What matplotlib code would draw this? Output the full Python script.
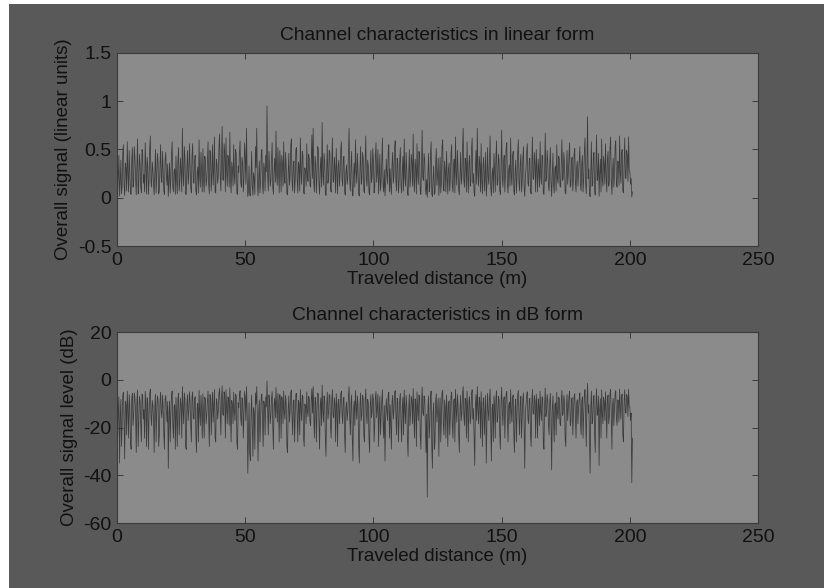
import numpy as np
import matplotlib.pyplot as plt
from matplotlib.patches import Rectangle

# segnale complessivo (unità lineari), un campione ogni STEP metri
STEP = 0.25
lin = [
    0.48, 0.06, 0.21, 0.44, 0.018, 0.16, 0.39, 0.04, 0.12, 0.47, 0.55, 0.13, 0.022, 0.36, 0.31, 0.07, 0.58, 0.24, 0.06, 0.49,
    0.27, 0.05, 0.035, 0.40, 0.52, 0.11, 0.18, 0.53, 0.41, 0.20, 0.03, 0.34, 0.61, 0.04, 0.14, 0.45, 0.35, 0.12, 0.05, 0.50,
    0.46, 0.15, 0.24, 0.06, 0.57, 0.30, 0.04, 0.42, 0.33, 0.035, 0.19, 0.51, 0.64, 0.17, 0.11, 0.37, 0.29, 0.13, 0.03, 0.28,
    0.50, 0.05, 0.22, 0.46, 0.38, 0.04, 0.07, 0.33, 0.55, 0.21, 0.16, 0.48, 0.26, 0.07, 0.035, 0.39, 0.47, 0.23, 0.13, 0.35,
    0.014, 0.19, 0.36, 0.05, 0.20, 0.45, 0.58, 0.12, 0.06, 0.27, 0.30, 0.035, 0.43, 0.18, 0.04, 0.38, 0.52, 0.07, 0.17, 0.41,
    0.28, 0.06, 0.72, 0.25, 0.12, 0.53, 0.40, 0.04, 0.035, 0.31, 0.49, 0.14, 0.23, 0.56, 0.35, 0.11, 0.05, 0.44, 0.56, 0.16,
    0.15, 0.39, 0.44, 0.07, 0.03, 0.26, 0.32, 0.05, 0.60, 0.21, 0.11, 0.47, 0.25, 0.06, 0.51, 0.18, 0.06, 0.43, 0.37, 0.12,
    0.19, 0.35, 0.58, 0.14, 0.04, 0.49, 0.42, 0.07, 0.27, 0.55, 0.13, 0.29, 0.63, 0.06, 0.05, 0.40, 0.34, 0.15, 0.22, 0.52,
    0.66, 0.24, 0.07, 0.41, 0.74, 0.19, 0.18, 0.56, 0.47, 0.06, 0.62, 0.28, 0.12, 0.44, 0.39, 0.11, 0.68, 0.20, 0.05, 0.37,
    0.30, 0.12, 0.55, 0.23, 0.14, 0.50, 0.45, 0.05, 0.035, 0.33, 0.26, 0.47, 0.59, 0.16, 0.11, 0.42, 0.36, 0.06, 0.20, 0.57,
    0.43, 0.14, 0.72, 0.22, 0.011, 0.06, 0.33, 0.03, 0.02, 0.18, 0.48, 0.12, 0.025, 0.26, 0.21, 0.035, 0.53, 0.31, 0.72, 0.15,
    0.02, 0.20, 0.38, 0.05, 0.16, 0.45, 0.50, 0.13, 0.04, 0.36, 0.29, 0.07, 0.44, 0.27, 0.95, 0.22, 0.07, 0.48, 0.34, 0.12,
    0.18, 0.40, 0.57, 0.11, 0.035, 0.29, 0.41, 0.16, 0.69, 0.25, 0.13, 0.52, 0.27, 0.05, 0.49, 0.33, 0.06, 0.44, 0.36, 0.12,
    0.58, 0.21, 0.15, 0.47, 0.31, 0.04, 0.03, 0.24, 0.46, 0.13, 0.22, 0.54, 0.61, 0.17, 0.07, 0.35, 0.38, 0.05, 0.19, 0.50,
    0.52, 0.19, 0.05, 0.37, 0.33, 0.07, 0.62, 0.26, 0.14, 0.48, 0.44, 0.06, 0.04, 0.31, 0.28, 0.12, 0.56, 0.22, 0.17, 0.45,
    0.40, 0.13, 0.11, 0.38, 0.65, 0.20, 0.72, 0.16, 0.06, 0.43, 0.35, 0.05, 0.24, 0.53, 0.50, 0.14, 0.035, 0.30, 0.42, 0.11,
    0.78, 0.23, 0.13, 0.46, 0.37, 0.06, 0.025, 0.28, 0.55, 0.15, 0.20, 0.49, 0.46, 0.11, 0.06, 0.36, 0.62, 0.18, 0.16, 0.42,
    0.30, 0.05, 0.51, 0.27, 0.04, 0.33, 0.39, 0.12, 0.25, 0.50, 0.58, 0.19, 0.12, 0.40, 0.43, 0.07, 0.03, 0.26, 0.34, 0.14,
    0.21, 0.44, 0.72, 0.17, 0.07, 0.32, 0.48, 0.06, 0.02, 0.25, 0.36, 0.11, 0.60, 0.28, 0.15, 0.46, 0.27, 0.04, 0.018, 0.30,
    0.53, 0.14, 0.19, 0.47, 0.41, 0.07, 0.05, 0.35, 0.64, 0.20, 0.12, 0.39, 0.33, 0.06, 0.03, 0.27, 0.49, 0.16, 0.22, 0.51,
    0.38, 0.05, 0.11, 0.43, 0.57, 0.16, 0.26, 0.50, 0.04, 0.21, 0.45, 0.07, 0.18, 0.37, 0.62, 0.13, 0.06, 0.29, 0.02, 0.15,
    0.40, 0.24, 0.14, 0.48, 0.55, 0.06, 0.30, 0.12, 0.035, 0.34, 0.47, 0.15, 0.23, 0.52, 0.59, 0.18, 0.07, 0.41, 0.35, 0.05,
    0.16, 0.39, 0.52, 0.13, 0.05, 0.28, 0.43, 0.07, 0.61, 0.22, 0.12, 0.47, 0.29, 0.06, 0.025, 0.24, 0.50, 0.11, 0.20, 0.45,
    0.37, 0.12, 0.66, 0.19, 0.06, 0.40, 0.31, 0.04, 0.56, 0.25, 0.14, 0.48, 0.44, 0.07, 0.035, 0.32, 0.70, 0.21, 0.18, 0.46,
    0.39, 0.11, 0.03, 0.19, 0.0035, 0.27, 0.46, 0.06, 0.12, 0.44, 0.58, 0.04, 0.014, 0.20, 0.33, 0.035, 0.05, 0.35, 0.51, 0.13,
    0.22, 0.41, 0.025, 0.17, 0.42, 0.05, 0.15, 0.53, 0.60, 0.12, 0.07, 0.38, 0.27, 0.06, 0.48, 0.23, 0.04, 0.30, 0.36, 0.07,
    0.19, 0.45, 0.55, 0.12, 0.06, 0.34, 0.40, 0.05, 0.63, 0.26, 0.13, 0.49, 0.30, 0.07, 0.03, 0.23, 0.47, 0.14, 0.21, 0.52,
    0.72, 0.18, 0.11, 0.41, 0.38, 0.06, 0.58, 0.24, 0.05, 0.36, 0.44, 0.12, 0.17, 0.50, 0.62, 0.15, 0.25, 0.06, 0.016, 0.28,
    0.49, 0.14, 0.72, 0.26, 0.12, 0.43, 0.35, 0.06, 0.56, 0.18, 0.04, 0.33, 0.42, 0.07, 0.20, 0.47, 0.018, 0.13, 0.52, 0.22,
    0.14, 0.39, 0.64, 0.11, 0.02, 0.24, 0.31, 0.05, 0.46, 0.29, 0.06, 0.41, 0.59, 0.13, 0.16, 0.45, 0.38, 0.07, 0.035, 0.32,
    0.70, 0.21, 0.11, 0.37, 0.44, 0.06, 0.25, 0.51, 0.57, 0.14, 0.05, 0.29, 0.34, 0.12, 0.62, 0.23, 0.13, 0.42, 0.48, 0.07,
    0.03, 0.27, 0.39, 0.05, 0.21, 0.46, 0.60, 0.16, 0.07, 0.35, 0.45, 0.06, 0.17, 0.40, 0.53, 0.12, 0.014, 0.19, 0.30, 0.47,
    0.56, 0.15, 0.12, 0.38, 0.41, 0.07, 0.04, 0.31, 0.63, 0.20, 0.19, 0.47, 0.35, 0.06, 0.50, 0.26, 0.06, 0.40, 0.28, 0.11,
    0.58, 0.22, 0.14, 0.44, 0.43, 0.05, 0.035, 0.29, 0.67, 0.17, 0.22, 0.49, 0.37, 0.12, 0.07, 0.33, 0.52, 0.16, 0.013, 0.24,
    0.46, 0.13, 0.05, 0.30, 0.33, 0.07, 0.55, 0.21, 0.15, 0.43, 0.40, 0.12, 0.11, 0.35, 0.60, 0.18, 0.20, 0.47, 0.36, 0.06,
    0.04, 0.28, 0.49, 0.14, 0.24, 0.44, 0.57, 0.11, 0.13, 0.39, 0.42, 0.07, 0.18, 0.45, 0.51, 0.16, 0.06, 0.32, 0.38, 0.12,
    0.26, 0.41, 0.53, 0.13, 0.07, 0.36, 0.44, 0.06, 0.19, 0.48, 0.62, 0.15, 0.04, 0.33, 0.84, 0.20, 0.30, 0.05, 0.011, 0.27,
    0.58, 0.12, 0.14, 0.42, 0.47, 0.07, 0.03, 0.31, 0.65, 0.18, 0.22, 0.46, 0.016, 0.25, 0.40, 0.06, 0.61, 0.19, 0.12, 0.43,
    0.35, 0.14, 0.56, 0.23, 0.06, 0.40, 0.48, 0.12, 0.17, 0.51, 0.63, 0.19, 0.035, 0.29, 0.41, 0.11, 0.24, 0.53, 0.59, 0.16,
    0.11, 0.38, 0.37, 0.13, 0.64, 0.27, 0.15, 0.46, 0.50, 0.07, 0.05, 0.34, 0.62, 0.21, 0.20, 0.49, 0.45, 0.17, 0.63, 0.28,
    0.27, 0.14, 0.20, 0.007, 0.06,
]

lin = np.array(lin)
dist = np.arange(len(lin)) * STEP
db = 20 * np.log10(lin)          # stessa traccia in dB

FIG_BG  = "#595959"
AX_BG   = "#8b8b8b"
LINE    = "#2c2c2c"
SPINE   = "#3a3a3a"
TXT     = "#111111"

plt.rcParams["font.family"] = ["Liberation Sans", "DejaVu Sans"]

fig = plt.figure(figsize=(8.24, 5.88), dpi=100, facecolor="white")
fig.patches.append(Rectangle((9 / 824, 0), 1, 1 - 4 / 588, transform=fig.transFigure,
                             facecolor=FIG_BG, edgecolor="none", zorder=-10))

ax1 = fig.add_axes([0.142, 0.5816, 0.778, 0.3283])
ax2 = fig.add_axes([0.142, 0.1105, 0.778, 0.3248])

panels = [
    (ax1, lin, "Channel characteristics in linear form", "Overall signal (linear units)",
     (-0.5, 1.5), [-0.5, 0, 0.5, 1, 1.5], ["-0.5", "0", "0.5", "1", "1.5"]),
    (ax2, db, "Channel characteristics in dB form", "Overall signal level (dB)",
     (-60, 20), [-60, -40, -20, 0, 20], ["-60", "-40", "-20", "0", "20"]),
]

for ax, y, title, ylabel, ylim, yt, ytl in panels:
    ax.set_facecolor(AX_BG)
    ax.plot(dist, y, color=LINE, lw=0.55, alpha=0.85)
    ax.set_xlim(0, 250)
    ax.set_ylim(*ylim)
    ax.set_xticks([0, 50, 100, 150, 200, 250])
    ax.set_yticks(yt)
    ax.set_yticklabels(ytl)
    ax.tick_params(direction="in", top=True, right=True, length=4, width=0.7,
                   color=SPINE, labelcolor=TXT, labelsize=14, pad=4)
    for s in ax.spines.values():
        s.set_color(SPINE)
        s.set_linewidth(0.8)
    ax.set_title(title, fontsize=13.8, color=TXT, pad=9)
    ax.set_xlabel("Traveled distance (m)", fontsize=13.5, color=TXT, labelpad=2)
    ax.set_ylabel(ylabel, fontsize=13.5, color=TXT, labelpad=4)

plt.savefig("out.png", dpi=100, facecolor="white")
plt.close()
